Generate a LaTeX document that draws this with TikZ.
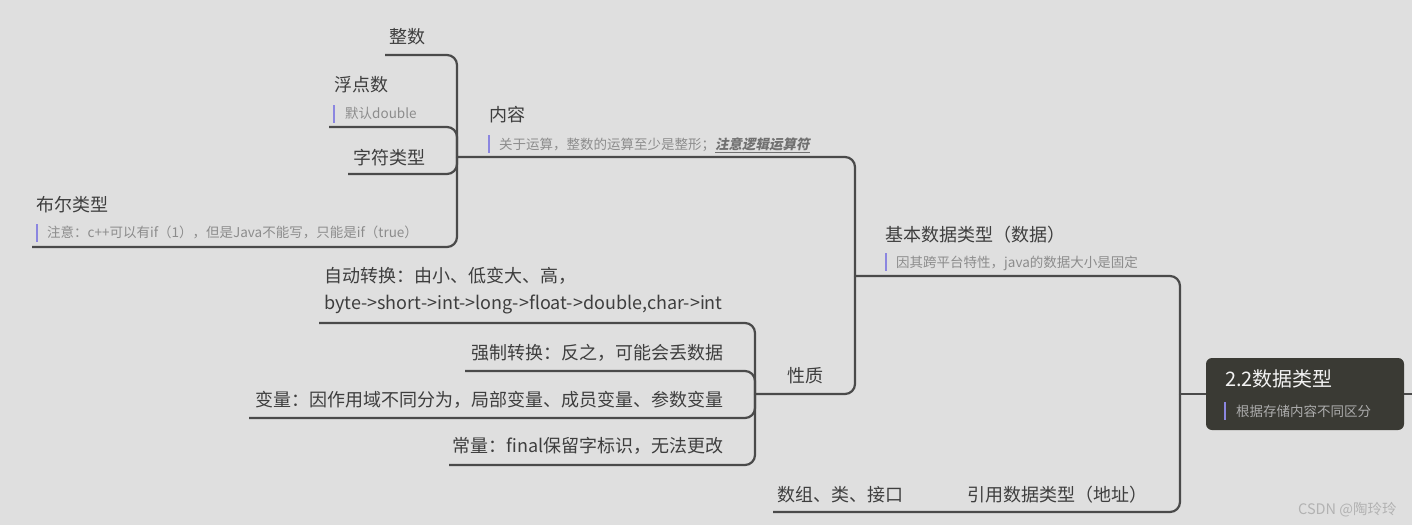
\documentclass[tikz,border=0pt]{standalone}
\usepackage{fontspec}
\setmainfont{Noto Sans CJK SC}
\newfontfamily\slantfont{Noto Sans CJK SC}[FakeSlant=0.2]
\definecolor{bgc}{HTML}{DFDFDF}
\definecolor{linec}{HTML}{4A4A4A}
\definecolor{textc}{HTML}{3E3E3E}
\definecolor{notec}{HTML}{8C8C8C}
\definecolor{notebc}{HTML}{707070}
\definecolor{barc}{HTML}{8B86E0}
\definecolor{rootc}{HTML}{3A3A34}
\definecolor{roott}{HTML}{F2F2F2}
\definecolor{rootn}{HTML}{ACACAC}
\definecolor{wmc}{HTML}{B2B2B2}
\begin{document}
\begin{tikzpicture}[x=1pt,y=-1pt,
  conn/.style={draw=linec, line width=2.2pt, rounded corners=10pt},
  topic/.style={inner sep=0pt, anchor=base west, text=textc, font=\fontsize{18}{20}\selectfont},
  topicR/.style={topic, anchor=base east},
  notetext/.style={inner sep=0pt, anchor=base west, text=notec, font=\fontsize{13.5}{15}\selectfont},
  notebar/.style={draw=barc, line width=2.5pt},
  rootbox/.style={fill=rootc, rounded corners=6pt, minimum width=198pt, minimum height=72pt, inner sep=0pt},
]
\useasboundingbox (0,0) rectangle (1412,525);
\fill[bgc] (0,0) rectangle (1412,525);

% junctions and underline ends
\coordinate (jA) at (457,157);
\coordinate (jB) at (855,276);
\coordinate (jC) at (755,394);
\coordinate (jR) at (1180,394);
\coordinate (uZS) at (385,55);
\coordinate (uFD) at (329,127);
\coordinate (uZF) at (348,174);
\coordinate (uBE) at (32,247);
\coordinate (uZD) at (319,323);
\coordinate (uQZ) at (465,371);
\coordinate (uBL) at (249,418);
\coordinate (uCL) at (449,465);
\coordinate (uYY) at (773,512);
\coordinate (offR) at (1412,394);

% root
\node[rootbox] (root) at (1305,394) {};
\node[inner sep=0pt, anchor=base west, text=roott, font=\fontsize{20}{22}\selectfont] (rootT) at (1225,386) {2.2数据类型};
\draw[notebar] (1225,402) -- (1225,420);
\node[notetext, text=rootn] (rootN) at (1236,416) {根据存储内容不同区分};

% topics
\node[topic] (zs) at (389,43) {整数};
\node[topic] (fd) at (334,91) {浮点数};
\draw[notebar] (334,105) -- (334,123);
\node[notetext] (fdN) at (345,118) {默认double};
\node[topic] (zf) at (353,164) {字符类型};
\node[topic] (be) at (36,211) {布尔类型};
\draw[notebar] (37,224) -- (37,242);
\node[notetext] (beN) at (47,237) {注意：c++可以有if（1），但是Java不能写，只能是if（true）};
\node[topic] (nr) at (489,121) {内容};
\draw[notebar] (489,135) -- (489,153);
\node[notetext] (nrN) at (499,149) {关于运算，整数的运算至少是整形；{\slantfont\bfseries\color{notebc}\underline{注意逻辑运算符}}};
\node[topic] (jb) at (885,241) {基本数据类型（数据）};
\draw[notebar] (886,253) -- (886,271);
\node[notetext] (jbN) at (896,267) {因其跨平台特性，java的数据大小是固定};
\node[topic] (xz) at (787,382) {性质};
\node[topic] (zd) at (324,282) {自动转换：由小、低变大、高，};
\node[topic] (zd2) at (324,309) {byte->short->int->long->float->double,char->int};
\node[topicR] (qz) at (724,359) {强制转换：反之，可能会丢数据};
\node[topicR] (bl) at (724,406) {变量：因作用域不同分为，局部变量、成员变量、参数变量};
\node[topicR] (cl) at (724,452) {常量：final保留字标识，无法更改};
\node[topic] (sz) at (777,501) {数组、类、接口};
\node[topic] (yy) at (967,501) {引用数据类型（地址）};
\node[inner sep=0pt, anchor=base west, text=wmc, font=\fontsize{14.5}{16}\selectfont] (wm) at (1298,514) {CSDN @陶玲玲};

% connectors
\draw[conn] (uZS) -| (jA);
\draw[conn] (uFD) -| (jA);
\draw[conn] (uZF) -| (jA);
\draw[conn] (uBE) -| (jA);
\draw[conn] (jA) -| (jB);
\draw[conn] (jC) -| (jB);
\draw[conn] (uZD) -| (jC);
\draw[conn] (uQZ) -| (jC);
\draw[conn] (uBL) -| (jC);
\draw[conn] (uCL) -| (jC);
\draw[conn] (jB) -| (jR);
\draw[conn] (uYY) -| (jR);
\draw[conn] (jR) -- (root.west);
\draw[conn] (root.east) -- (offR);
\end{tikzpicture}
\end{document}
